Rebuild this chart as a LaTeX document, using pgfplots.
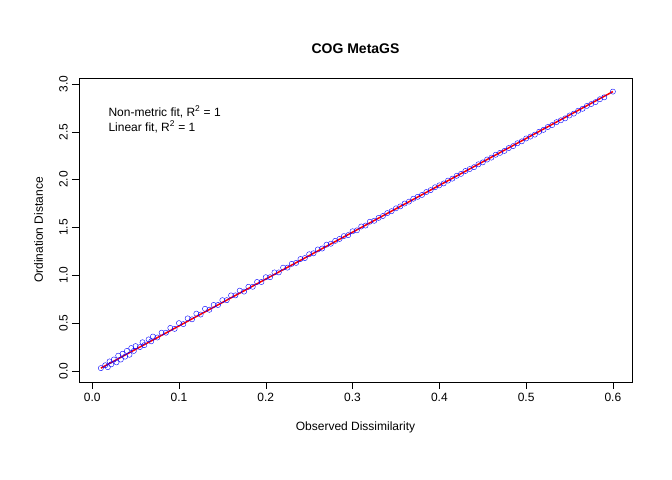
\documentclass[border=0pt]{standalone}
\usepackage{pgfplots}
\pgfplotsset{compat=1.18}
\usepackage{fontspec}
\setmainfont{Liberation Sans}
\begin{document}
\fontsize{12bp}{14bp}\selectfont
\begin{tikzpicture}[x=1bp,y=1bp]
\useasboundingbox (-79,-98) rectangle (593,382);
\begin{axis}[at={(0,0)},anchor=south west,scale only axis,width=553bp,height=304bp,
xmin=-0.0152,xmax=0.622,ymin=-0.115,ymax=3.062,
xtick={0,0.1,...,0.6},ytick={0,0.5,...,3},
xticklabels={0.0,0.1,0.2,0.3,0.4,0.5,0.6},
yticklabels={0.0,0.5,1.0,1.5,2.0,2.5,3.0},
/pgf/number format/assume math mode=true,
tick style={black,thin},tick align=outside,major tick length=7bp,
xtick pos=bottom,ytick pos=left,
yticklabel style={rotate=90,anchor=south},
xlabel={Observed Dissimilarity},ylabel={Ordination Distance},
xlabel style={yshift=-12bp},ylabel style={yshift=8bp},
title={\textbf{COG MetaGS}},title style={yshift=14bp,font=\fontsize{14bp}{16bp}\selectfont},
clip=false]
\addplot[only marks,mark=o,blue,mark size=2.6bp] coordinates {
(0.010,0.03)(0.015,0.06)(0.018,0.04)(0.020,0.10)(0.022,0.07)(0.025,0.12)(0.028,0.09)(0.030,0.16)
(0.033,0.12)(0.035,0.18)(0.038,0.15)(0.040,0.21)(0.043,0.17)(0.045,0.24)(0.048,0.21)(0.050,0.26)
(0.055,0.25)(0.058,0.30)(0.060,0.27)(0.065,0.33)(0.068,0.31)(0.070,0.36)(0.075,0.35)(0.080,0.40)
(0.085,0.40)(0.090,0.45)(0.095,0.44)(0.100,0.50)(0.105,0.49)(0.110,0.55)(0.115,0.54)(0.120,0.60)
(0.125,0.59)(0.130,0.65)(0.135,0.64)(0.140,0.69)(0.145,0.69)(0.150,0.74)(0.155,0.74)(0.160,0.79)
(0.165,0.79)(0.170,0.84)(0.175,0.83)(0.180,0.88)(0.185,0.88)(0.190,0.93)(0.195,0.93)(0.200,0.98)
(0.205,0.98)(0.210,1.03)(0.215,1.03)(0.220,1.08)(0.225,1.08)(0.230,1.12)(0.235,1.13)(0.240,1.17)
(0.245,1.18)(0.250,1.22)(0.255,1.23)(0.260,1.27)(0.265,1.28)(0.270,1.32)(0.275,1.33)(0.280,1.36)
(0.285,1.38)(0.290,1.41)(0.295,1.42)(0.300,1.46)(0.305,1.47)(0.310,1.51)(0.315,1.52)(0.320,1.56)
(0.325,1.57)(0.330,1.60)(0.335,1.62)(0.340,1.65)(0.345,1.67)(0.350,1.70)(0.355,1.72)(0.360,1.75)
(0.365,1.77)(0.370,1.80)(0.375,1.82)(0.380,1.84)(0.385,1.87)(0.390,1.89)(0.395,1.92)(0.400,1.94)
(0.405,1.96)(0.410,1.99)(0.415,2.01)(0.420,2.04)(0.425,2.06)(0.430,2.09)(0.435,2.11)(0.440,2.13)
(0.445,2.16)(0.450,2.18)(0.455,2.21)(0.460,2.23)(0.465,2.26)(0.470,2.28)(0.475,2.30)(0.480,2.33)
(0.485,2.35)(0.490,2.38)(0.495,2.40)(0.500,2.43)(0.505,2.45)(0.510,2.47)(0.515,2.50)(0.520,2.52)
(0.525,2.55)(0.530,2.57)(0.535,2.60)(0.540,2.62)(0.545,2.64)(0.550,2.67)(0.555,2.69)(0.560,2.72)
(0.565,2.74)(0.570,2.77)(0.575,2.79)(0.580,2.81)(0.585,2.84)(0.590,2.86)(0.600,2.92)
};
\addplot[red,line width=1.5pt] coordinates {(0.010,0.03)(0.600,2.92)};
\node[anchor=west,align=left] at (axis cs:0.014,2.63) {Non-metric fit, R\textsuperscript{2} = 1\\[1bp]Linear fit, R\textsuperscript{2} = 1};
\end{axis}
\end{tikzpicture}
\end{document}
